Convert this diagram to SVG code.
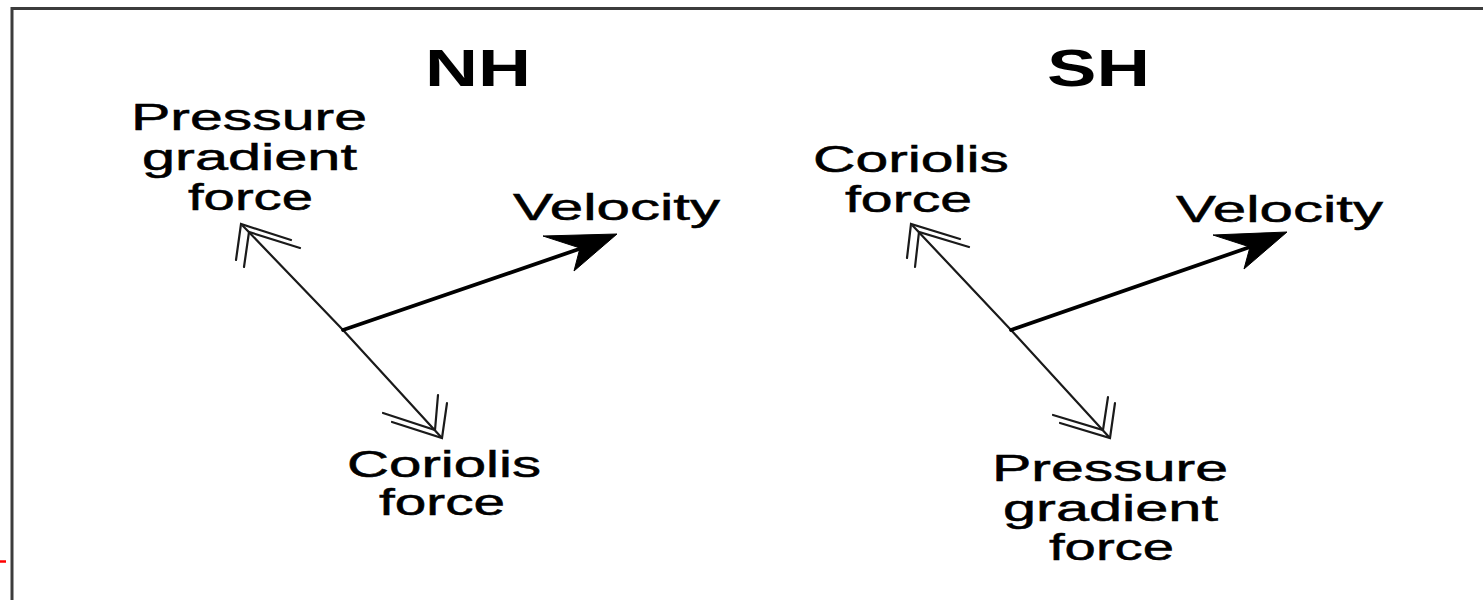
<svg xmlns="http://www.w3.org/2000/svg" width="1483" height="600" viewBox="0 0 1483 600">
<style>
.lbl{font-family:"Liberation Sans",Arial,sans-serif;font-size:37px;fill:#000;stroke:#000;stroke-width:0.5}
.ttl{font-family:"Liberation Sans",Arial,sans-serif;font-size:51px;font-weight:bold;fill:#000}
.thin{fill:none;stroke:#1a1a1a;stroke-width:2.2;stroke-linecap:round;stroke-linejoin:miter}
.vel{fill:none;stroke:#000;stroke-width:3.8;stroke-linecap:round}
.head{fill:#000;stroke:#000;stroke-width:1;stroke-linejoin:round}
.frame{stroke:#3c3c3c;stroke-width:3;fill:none}
</style>
<rect x="0" y="0" width="1483" height="600" fill="#fff"/>
<g id="frame">
<line class="frame" x1="12" y1="8.5" x2="1483" y2="8.5"/>
<line class="frame" x1="12" y1="7" x2="12" y2="600"/>
<line x1="0" y1="561.5" x2="6" y2="561.5" stroke="#ff0000" stroke-width="2.5"/>
</g>
<g id="connectors">
<!-- NH -->
<line class="thin" x1="343" y1="330" x2="243" y2="226"/>
<polyline class="thin" points="236,260 241,224 291,240"/>
<polyline class="thin" points="244,267 249,232 300,248"/>
<line class="thin" x1="343" y1="330" x2="441" y2="437"/>
<polyline class="thin" points="447,403 442,438 392,422"/>
<polyline class="thin" points="438,395 435,430 383,413"/>
<line class="vel" x1="343" y1="330" x2="582" y2="248"/>
<polygon class="head" points="617,234 543,236 580,248 574,271"/>
<!-- SH -->
<line class="thin" x1="1011" y1="330" x2="913" y2="226"/>
<polyline class="thin" points="907,258 911,224 960,239"/>
<polyline class="thin" points="915,267 919,232 969,247"/>
<line class="thin" x1="1011" y1="330" x2="1109" y2="437"/>
<polyline class="thin" points="1115,403 1110,438 1060,423"/>
<polyline class="thin" points="1108,397 1103,430 1053,415"/>
<line class="vel" x1="1011" y1="330" x2="1250" y2="247"/>
<polygon class="head" points="1287,232 1213,235 1250,247 1244,269"/>
</g>
<g id="nh-title"><text class="ttl" x="425" y="86" textLength="106" lengthAdjust="spacingAndGlyphs">NH</text></g>
<g id="nh-pgf">
<text class="lbl" x="131" y="130" textLength="236" lengthAdjust="spacingAndGlyphs">Pressure</text>
<text class="lbl" x="142" y="170" textLength="215" lengthAdjust="spacingAndGlyphs">gradient</text>
<text class="lbl" x="188" y="210" textLength="125" lengthAdjust="spacingAndGlyphs">force</text>
</g>
<g id="nh-velocity"><text class="lbl" x="513" y="220" textLength="207" lengthAdjust="spacingAndGlyphs">Velocity</text></g>
<g id="nh-coriolis">
<text class="lbl" x="347" y="477" textLength="194" lengthAdjust="spacingAndGlyphs">Coriolis</text>
<text class="lbl" x="379" y="515" textLength="126" lengthAdjust="spacingAndGlyphs">force</text>
</g>
<g id="sh-title"><text class="ttl" x="1047" y="86" textLength="103" lengthAdjust="spacingAndGlyphs">SH</text></g>
<g id="sh-coriolis">
<text class="lbl" x="813" y="172" textLength="196" lengthAdjust="spacingAndGlyphs">Coriolis</text>
<text class="lbl" x="845" y="212" textLength="127" lengthAdjust="spacingAndGlyphs">force</text>
</g>
<g id="sh-velocity"><text class="lbl" x="1176" y="222" textLength="207" lengthAdjust="spacingAndGlyphs">Velocity</text></g>
<g id="sh-pgf">
<text class="lbl" x="992" y="481" textLength="236" lengthAdjust="spacingAndGlyphs">Pressure</text>
<text class="lbl" x="1003" y="521" textLength="215" lengthAdjust="spacingAndGlyphs">gradient</text>
<text class="lbl" x="1049" y="560" textLength="125" lengthAdjust="spacingAndGlyphs">force</text>
</g>
</svg>
